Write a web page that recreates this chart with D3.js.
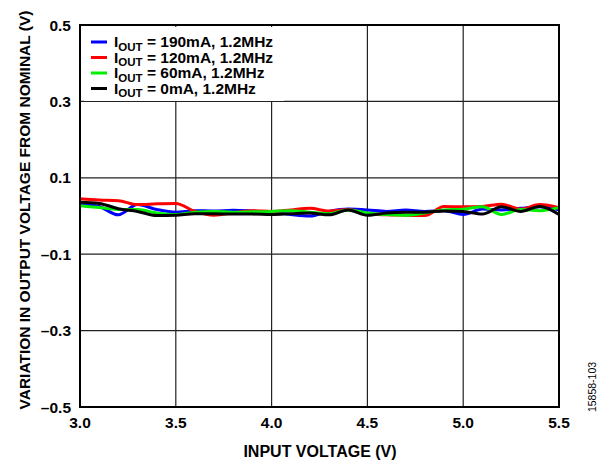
<!DOCTYPE html>
<html>
<head>
<meta charset="utf-8">
<script src="https://cdn.jsdelivr.net/npm/d3@7"></script>
<style>
body { margin: 0; background: #fff; }
svg { display: block; font-family: "Liberation Sans", Arial, sans-serif; }
</style>
</head>
<body>
<svg width="600" height="462"></svg>
<script>
// input voltage sweep, 3.0 V .. 5.5 V in 0.1 V steps
var vin = [3.0,3.1,3.2,3.3,3.4,3.5,3.6,3.7,3.8,3.9,4.0,4.1,4.2,4.3,4.4,4.5,4.6,4.7,4.8,4.9,5.0,5.1,5.2,5.3,5.4,5.5];

var i190 = [0.033,0.025,0.003,0.030,0.017,0.010,0.014,0.013,0.015,0.013,0.010,0.004,0.000,0.012,0.018,0.016,0.012,0.016,0.012,0.014,0.004,0.018,0.016,0.020,0.024,0.016];
var i120 = [0.045,0.042,0.040,0.030,0.032,0.033,0.012,0.002,0.008,0.014,0.012,0.016,0.020,0.013,0.017,0.005,0.003,0.002,0.001,0.025,0.024,0.025,0.031,0.018,0.030,0.022];
var i60  = [0.027,0.022,0.017,0.017,0.008,0.004,0.010,0.012,0.010,0.011,0.012,0.014,0.010,0.006,0.016,0.008,0.004,0.002,0.008,0.016,0.018,0.024,0.004,0.017,0.014,0.022];
var i0   = [0.036,0.033,0.019,0.012,0.001,0.002,0.006,0.006,0.005,0.005,0.004,0.006,0.008,0.003,0.016,0.002,0.008,0.010,0.010,0.013,0.012,0.005,0.024,0.012,0.025,0.004];

var labels = ["190mA, 1.2MHz", "120mA, 1.2MHz", "60mA, 1.2MHz", "0mA, 1.2MHz"];
var colors = ["#0000ff", "#ff0000", "#00ee00", "#000000"];
var xTicks = [3.0,3.5,4.0,4.5,5.0,5.5];
var yTicks = [0.5,0.3,0.1,-0.1,-0.3,-0.5];

var series = [i190, i120, i60, i0];

var svg = d3.select("svg");
var pLeft = 80, pRight = 559, pTop = 25, pBottom = 407;

var x = d3.scaleLinear().domain([3.0, 5.5]).range([pLeft, pRight]);
var y = d3.scaleLinear().domain([-0.5, 0.5]).range([pBottom, pTop]);

// grid
svg.append("g").selectAll("line").data(xTicks.slice(1, -1)).enter().append("line")
  .attr("x1", function(d){ return x(d); }).attr("x2", function(d){ return x(d); })
  .attr("y1", pTop).attr("y2", pBottom)
  .attr("stroke", "#222").attr("stroke-width", 1.2);
svg.append("g").selectAll("line").data(yTicks.slice(1, -1)).enter().append("line")
  .attr("x1", pLeft).attr("x2", pRight)
  .attr("y1", function(d){ return y(d); }).attr("y2", function(d){ return y(d); })
  .attr("stroke", "#222").attr("stroke-width", 1.2);

// data lines
var line = d3.line()
  .x(function(d, i){ return x(vin[i]); })
  .y(function(d){ return y(d); })
  .curve(d3.curveMonotoneX);

svg.append("g").selectAll("path").data(series).enter().append("path")
  .attr("d", line)
  .attr("fill", "none")
  .attr("stroke", function(d, i){ return colors[i]; })
  .attr("stroke-width", 3)
  .attr("stroke-linejoin", "round");

// legend
var lg = svg.append("g");
lg.append("rect").attr("x", 84).attr("y", 27).attr("width", 200).attr("height", 74).attr("fill", "#fff");
labels.forEach(function(t, i){
  var yy = 42 + i * 15.5;
  lg.append("line").attr("x1", 91).attr("x2", 107).attr("y1", yy).attr("y2", yy)
    .attr("stroke", colors[i]).attr("stroke-width", 3);
  var tx = lg.append("text").attr("x", 114).attr("y", yy + 5)
    .attr("font-size", 15.5).attr("font-weight", "bold").attr("fill", "#000");
  tx.append("tspan").text("I");
  tx.append("tspan").attr("font-size", 11.5).attr("dy", 3.5).text("OUT");
  tx.append("tspan").attr("dy", -3.5).text(" = " + t);
});

// frame
svg.append("rect").attr("x", pLeft).attr("y", pTop).attr("width", pRight - pLeft).attr("height", pBottom - pTop)
  .attr("fill", "none").attr("stroke", "#000").attr("stroke-width", 2);

// tick labels
svg.append("g").selectAll("text").data(xTicks).enter().append("text")
  .attr("x", function(d){ return x(d); }).attr("y", 428)
  .attr("text-anchor", "middle").attr("font-size", 15.5).attr("font-weight", "bold")
  .text(function(d){ return d.toFixed(1); });
svg.append("g").selectAll("text").data(yTicks).enter().append("text")
  .attr("x", 71).attr("y", function(d){ return y(d) + 5.5; })
  .attr("text-anchor", "end").attr("font-size", 15.5).attr("font-weight", "bold")
  .text(function(d){ return d < 0 ? "\u2013" + Math.abs(d).toFixed(1) : d.toFixed(1); });

// axis titles
svg.append("text").attr("x", 320).attr("y", 457).attr("text-anchor", "middle")
  .attr("font-size", 16).attr("font-weight", "bold").text("INPUT VOLTAGE (V)");
svg.append("text").attr("transform", "translate(30,210) rotate(-90)").attr("text-anchor", "middle")
  .attr("font-size", 15.5).attr("font-weight", "bold").text("VARIATION IN OUTPUT VOLTAGE FROM NOMINAL (V)");

svg.append("text").attr("transform", "translate(596,387) rotate(-90)").attr("text-anchor", "middle")
  .attr("font-size", 10.5).text("15858-103");
</script>
</body>
</html>
